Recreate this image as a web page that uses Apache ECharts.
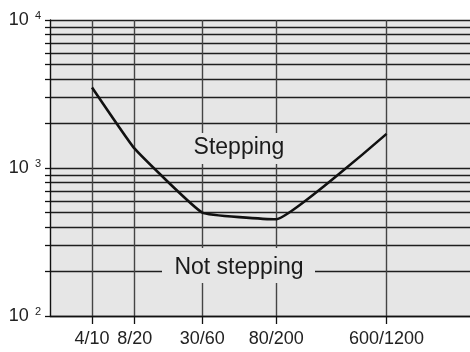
<!DOCTYPE html>
<html>
<head>
<meta charset="utf-8">
<script src="https://cdn.jsdelivr.net/npm/echarts@6/dist/echarts.min.js"></script>
<style>
  html, body { margin: 0; background: #fff; }
  #chart { width: 470px; height: 352px; }
</style>
</head>
<body>
<div id="chart"></div>
<script>
// data
const categories = ['4/10', '8/20', '30/60', '80/200', '600/1200']
const xValues = [10, 20, 60, 200, 1200]      // second number of each label, log spaced
const yValues = [3500, 1350, 500, 450, 1700]
const yGridValues = [100, 200, 300, 400, 500, 600, 700, 800, 900,
  1000, 2000, 3000, 4000, 5000, 6000, 7000, 8000, 9000, 10000]
const yLabelValues = [100, 1000, 10000]

const font = 'Liberation Sans, Arial, Helvetica, sans-serif'
const gridColor = '#1e1e1e'
const plotBg = '#e6e6e6'

const chart = echarts.init(document.getElementById('chart'))
chart.setOption({
  animation: false,
  textStyle: { fontFamily: font },
  grid: { left: 50, right: 0, top: 20, bottom: 36, show: true, backgroundColor: plotBg, borderWidth: 0 },
  xAxis: {
    type: 'log', logBase: 10, min: 5.05, max: 4660,
    axisLine: { show: true, lineStyle: { color: '#111', width: 1.4 } },
    axisTick: { show: true, customValues: xValues, length: 8, lineStyle: { color: '#111', width: 1.3 } },
    axisLabel: {
      customValues: xValues, margin: 14, fontSize: 18, color: '#222',
      formatter: v => categories[xValues.findIndex(x => Math.abs(x - v) < 1e-6 * x)] || ''
    },
    splitLine: { show: true, lineStyle: { color: '#444', width: 1.4 } },
    minorTick: { show: false }
  },
  yAxis: {
    type: 'log', logBase: 10, min: 100, max: 10000,
    axisLine: { show: true, lineStyle: { color: '#111', width: 1.4 } },
    axisTick: { show: true, customValues: yGridValues, length: 5, lineStyle: { color: '#111', width: 1.3 } },
    axisLabel: {
      customValues: yLabelValues, margin: 9, color: '#222',
      formatter: v => '{b|10}{s|' + Math.round(Math.log10(v)) + '}',
      rich: {
        b: { fontSize: 18, lineHeight: 20, color: '#222', fontFamily: font },
        s: { fontSize: 11, verticalAlign: 'top', padding: [0, 0, 0, 6], color: '#222', fontFamily: font }
      }
    },
    splitLine: { show: true, lineStyle: { color: gridColor, width: 1.3 } }
  },
  series: [{
    type: 'line',
    data: xValues.map((x, i) => [x, yValues[i]]),
    symbol: 'none',
    smooth: 0.1,
    lineStyle: { color: '#111', width: 2.6 },
    z: 5
  }],
  graphic: [
    { type: 'rect', z: 50, shape: { x: 182, y: 133, width: 114, height: 31 }, style: { fill: plotBg } },
    { type: 'text', z: 51, x: 239, y: 148, style: { text: 'Stepping', font: '23px ' + font, fill: '#1a1a1a', align: 'center', verticalAlign: 'middle' } },
    { type: 'rect', z: 50, shape: { x: 162, y: 248, width: 153, height: 35 }, style: { fill: plotBg } },
    { type: 'text', z: 51, x: 239, y: 268, style: { text: 'Not stepping', font: '23px ' + font, fill: '#1a1a1a', align: 'center', verticalAlign: 'middle' } }
  ]
})
</script>
</body>
</html>
